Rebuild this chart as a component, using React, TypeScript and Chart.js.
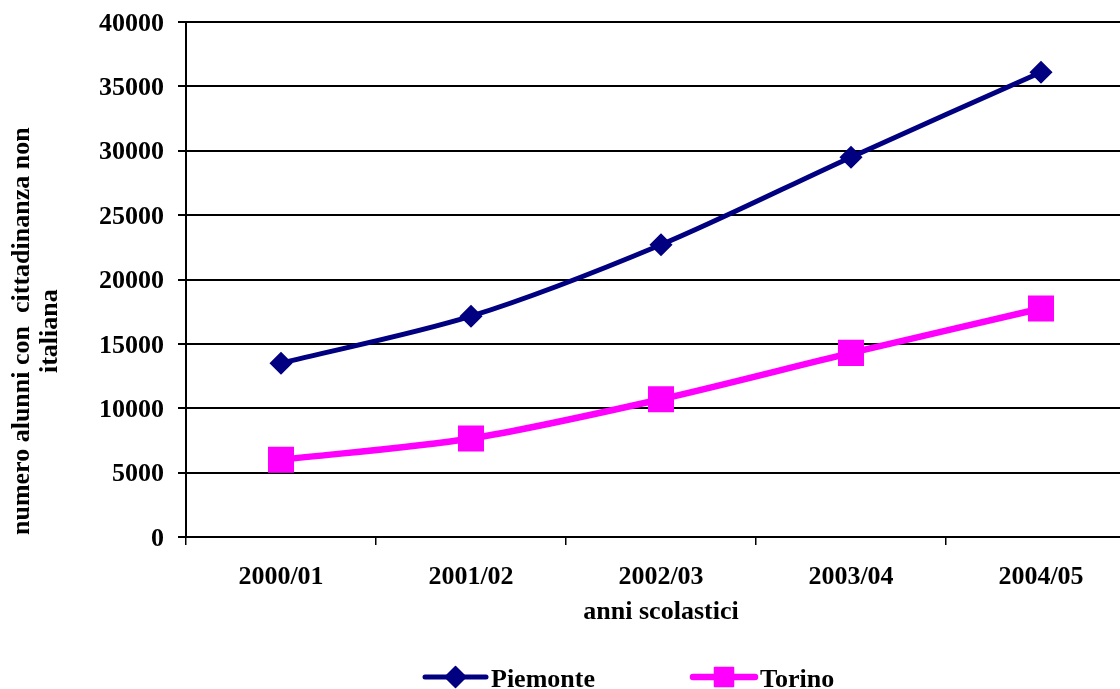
import React, { useEffect, useRef } from "react";
import { Chart, registerables } from "chart.js";

Chart.register(...registerables);

const categories = ["2000/01", "2001/02", "2002/03", "2003/04", "2004/05"];
const piemonte = [13500, 17150, 22700, 29500, 36100];
const torino = [6000, 7650, 10700, 14300, 17750];
const yTitleLines = ["numero alunni con  cittadinanza non", "italiana"];
const xTitleText = "anni scolastici";
const seriesNames = ["Piemonte", "Torino"];

const FONT = "'Liberation Serif', 'Times New Roman', serif";
const NAVY = "#000080";
const MAGENTA = "#FF00FF";

const yTitlePlugin = {
  id: "yTitleCustom",
  afterDraw(chart: any) {
    const { ctx, chartArea } = chart;
    ctx.save();
    ctx.font = `bold 26px ${FONT}`;
    ctx.fillStyle = "#000";
    ctx.textAlign = "center";
    ctx.textBaseline = "middle";
    const w1 = ctx.measureText(yTitleLines[0]).width;
    const cy = chartArea.bottom - 2 - w1 / 2;
    const xs = [22, 50];
    yTitleLines.forEach((t, i) => {
      ctx.save();
      ctx.translate(xs[i], cy);
      ctx.rotate(-Math.PI / 2);
      ctx.fillText(t, 0, 0);
      ctx.restore();
    });
    ctx.restore();
  },
};

const legendPlugin = {
  id: "legendCustom",
  afterDraw(chart: any) {
    const { ctx } = chart;
    const items = [
      { x0: 425, x1: 486, tx: 491, ds: chart.data.datasets[0] },
      { x0: 693, x1: 755, tx: 760, ds: chart.data.datasets[1] },
    ];
    const y = 677;
    ctx.save();
    items.forEach((it) => {
      const ds = it.ds;
      ctx.strokeStyle = ds.borderColor;
      ctx.lineWidth = ds.borderWidth;
      ctx.lineCap = "round";
      ctx.beginPath();
      ctx.moveTo(it.x0, y);
      ctx.lineTo(it.x1, y);
      ctx.stroke();
      const cx = (it.x0 + it.x1) / 2;
      ctx.fillStyle = ds.pointBackgroundColor;
      ctx.strokeStyle = ds.pointBorderColor;
      ctx.lineWidth = 1.5;
      ctx.lineJoin = "round";
      ctx.beginPath();
      if (ds.pointStyle === "rectRot") {
        const r = 10.5;
        ctx.moveTo(cx - r, y);
        ctx.lineTo(cx, y - r);
        ctx.lineTo(cx + r, y);
        ctx.lineTo(cx, y + r);
        ctx.closePath();
      } else {
        const s = 9.5;
        ctx.rect(cx - s, y - s, 2 * s, 2 * s);
      }
      ctx.fill();
      ctx.stroke();
      ctx.fillStyle = "#000";
      ctx.font = `bold 26px ${FONT}`;
      ctx.textAlign = "left";
      ctx.textBaseline = "alphabetic";
      ctx.fillText(ds.label, it.tx, 687);
    });
    ctx.restore();
  },
};

export default function App() {
  const ref = useRef<HTMLCanvasElement | null>(null);

  useEffect(() => {
    if (!ref.current) return;
    const chart = new Chart(ref.current, {
      type: "line",
      data: {
        labels: categories,
        datasets: [
          {
            label: seriesNames[0],
            data: piemonte,
            borderColor: NAVY,
            backgroundColor: NAVY,
            borderWidth: 5,
            pointStyle: "rectRot",
            pointRadius: 10.5,
            pointBorderWidth: 1.5,
            pointBackgroundColor: NAVY,
            pointBorderColor: NAVY,
            tension: 0.3,
            fill: false,
          },
          {
            label: seriesNames[1],
            data: torino,
            borderColor: MAGENTA,
            backgroundColor: MAGENTA,
            borderWidth: 6.5,
            pointStyle: "rect",
            pointRadius: 17,
            pointBorderWidth: 2,
            pointBackgroundColor: MAGENTA,
            pointBorderColor: MAGENTA,
            tension: 0.3,
            fill: false,
          },
        ],
      },
      options: {
        animation: false,
        responsive: false,
        devicePixelRatio: 1,
        layout: { padding: { left: 98, right: 4, top: 22, bottom: 57 } },
        plugins: {
          legend: { display: false },
          tooltip: { enabled: false },
        },
        scales: {
          x: {
            type: "category",
            offset: true,
            grid: {
              offset: true,
              drawOnChartArea: false,
              drawTicks: true,
              tickLength: 8,
              color: "#000",
              lineWidth: 1.5,
            },
            border: { display: true, color: "#000", width: 2 },
            ticks: {
              color: "#000",
              padding: 17,
              font: { family: FONT, size: 26, weight: "bold" },
              maxRotation: 0,
              autoSkip: false,
            },
            title: {
              display: true,
              text: xTitleText,
              color: "#000",
              font: { family: FONT, size: 26, weight: "bold" },
              padding: { top: 0, bottom: 4 },
            },
            afterFit(scale: any) {
              scale.height = 95;
            },
          },
          y: {
            min: 0,
            max: 40000,
            ticks: {
              stepSize: 5000,
              color: "#000",
              padding: 14,
              labelOffset: 2,
              font: { family: FONT, size: 26, weight: "bold" },
              callback: (v: any) => String(v),
            },
            grid: {
              color: "#000",
              lineWidth: 2,
              tickLength: 8,
              drawTicks: true,
            },
            border: { display: true, color: "#000", width: 2 },
            afterFit(scale: any) {
              scale.width = 88;
              scale.paddingTop = 0;
              scale.paddingBottom = 0;
            },
          },
        },
      },
      plugins: [yTitlePlugin, legendPlugin],
    });
    return () => chart.destroy();
  }, []);

  return (
    <div
      style={{
        position: "fixed",
        left: 0,
        top: 0,
        width: 1120,
        height: 689,
        overflow: "hidden",
        background: "#fff",
      }}
    >
      <canvas ref={ref} width={1155} height={689} style={{ display: "block" }} />
    </div>
  );
}
